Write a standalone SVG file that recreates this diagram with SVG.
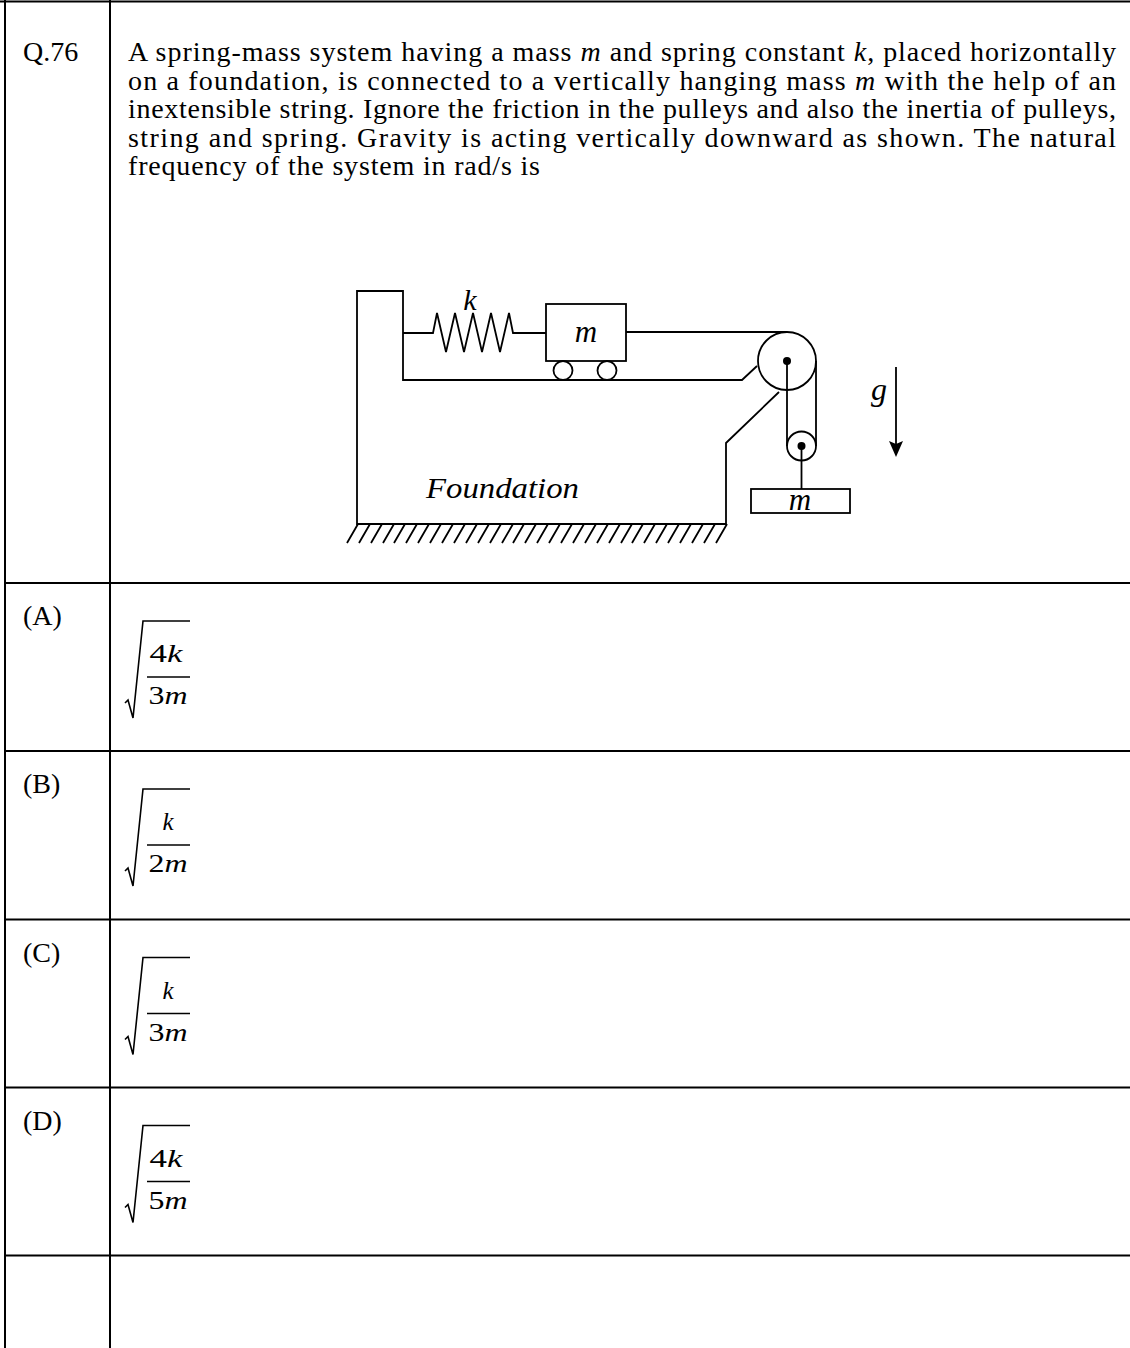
<svg xmlns="http://www.w3.org/2000/svg" width="1130" height="1348" viewBox="0 0 1130 1348">
<style>
.t{font-family:"Liberation Serif","Times New Roman",serif;font-size:28px;fill:#000}
.i{font-style:italic}
.f{font-family:"Liberation Serif","Times New Roman",serif;font-size:25px;fill:#000;text-anchor:middle}
.grid{stroke:#000;stroke-width:2;fill:none}
.d{stroke:#000;stroke-width:1.8;fill:none;stroke-linejoin:miter}
.dt{font-family:"Liberation Serif","Times New Roman",serif;font-style:italic;fill:#000}
.rad{stroke:#000;stroke-width:1.6;fill:none}
</style>
<rect width="1130" height="1348" fill="#fff"/>
<g id="table" class="grid">
<line x1="0" y1="1.5" x2="1130" y2="1.5"/>
<line x1="5" y1="0" x2="5" y2="1348"/>
<line x1="110" y1="0" x2="110" y2="1348"/>
<line x1="5" y1="583" x2="1130" y2="583"/>
<line x1="5" y1="751" x2="1130" y2="751"/>
<line x1="5" y1="919.5" x2="1130" y2="919.5"/>
<line x1="5" y1="1087.5" x2="1130" y2="1087.5"/>
<line x1="5" y1="1255.5" x2="1130" y2="1255.5"/>
</g>
<g id="question">
<text class="t" x="23" y="61">Q.76</text>
<text class="t" x="128" y="61" textLength="988" lengthAdjust="spacing">A spring-mass system having a mass <tspan class="i">m</tspan> and spring constant <tspan class="i">k</tspan>, placed horizontally</text>
<text class="t" x="128" y="89.5" textLength="988" lengthAdjust="spacing">on a foundation, is connected to a vertically hanging mass <tspan class="i">m</tspan> with the help of an</text>
<text class="t" x="128" y="118" textLength="988" lengthAdjust="spacing">inextensible string. Ignore the friction in the pulleys and also the inertia of pulleys,</text>
<text class="t" x="128" y="146.5" textLength="988" lengthAdjust="spacing">string and spring. Gravity is acting vertically downward as shown. The natural</text>
<text class="t" x="128" y="175" textLength="412" lengthAdjust="spacing">frequency of the system in rad/s is</text>
</g>
<g id="figure">
<g id="foundation">
<path class="d" d="M757,366 L742,380 L403,380 L403,291 L357,291 L357,524 L726,524 L726,443 L779,392"/>
<path class="d" stroke-width="1.5" d="M358,524 l-11,19 M370,524 l-11,19 M382,524 l-11,19 M394,524 l-11,19 M405,524 l-11,19 M417,524 l-11,19 M429,524 l-11,19 M441,524 l-11,19 M453,524 l-11,19 M465,524 l-11,19 M477,524 l-11,19 M489,524 l-11,19 M501,524 l-11,19 M513,524 l-11,19 M524,524 l-11,19 M536,524 l-11,19 M548,524 l-11,19 M560,524 l-11,19 M572,524 l-11,19 M584,524 l-11,19 M596,524 l-11,19 M608,524 l-11,19 M620,524 l-11,19 M632,524 l-11,19 M643,524 l-11,19 M655,524 l-11,19 M667,524 l-11,19 M679,524 l-11,19 M691,524 l-11,19 M703,524 l-11,19 M715,524 l-11,19 M727,524 l-11,19"/>
<text class="dt" x="502.5" y="498" font-size="30" text-anchor="middle" textLength="153" lengthAdjust="spacingAndGlyphs">Foundation</text>
</g>
<g id="spring">
<path class="d" d="M403,333 L433,333 L437,313 L446,352 L455,313 L464,352 L473,313 L482,352 L491,313 L500,352 L509,313 L513,333 L546,333"/>
<text class="dt" x="470" y="310" font-size="30" text-anchor="middle">k</text>
</g>
<g id="cart">
<rect class="d" x="546" y="304" width="80" height="57"/>
<circle class="d" cx="563" cy="370.5" r="9.5" fill="#fff"/>
<circle class="d" cx="607" cy="370.5" r="9.5" fill="#fff"/>
<text class="dt" x="586" y="342" font-size="31" text-anchor="middle">m</text>
</g>
<g id="connectors">
<line class="d" x1="626" y1="332" x2="787" y2="332"/>
<line class="d" x1="787" y1="361" x2="787" y2="446"/>
<line class="d" x1="816" y1="361" x2="816" y2="446"/>
<line class="d" x1="801.5" y1="446" x2="801.5" y2="489"/>
</g>
<g id="pulley-big">
<circle class="d" cx="787" cy="361" r="29"/>
<circle cx="787" cy="361" r="4" fill="#000"/>
</g>
<g id="pulley-small">
<circle class="d" cx="801.5" cy="446" r="14.5"/>
<circle cx="801.5" cy="446" r="4" fill="#000"/>
</g>
<g id="hanging-mass">
<rect class="d" x="751" y="489" width="99" height="24"/>
<text class="dt" x="800" y="510" font-size="31" text-anchor="middle">m</text>
</g>
<g id="gravity">
<line class="d" x1="896" y1="367" x2="896" y2="446"/>
<path d="M896,457 L889,441 L896,444 L903,441 Z" fill="#000"/>
<text class="dt" x="879" y="400" font-size="32" text-anchor="middle">g</text>
</g>
</g>
<g id="optA">
<text class="t" x="23" y="625">(A)</text>
<path class="rad" d="M125,703 L128,700 L133,718 L143,621 L190,621"/>
<line class="rad" x1="147" y1="677" x2="190" y2="677"/>
<text class="f" x="166" y="662" textLength="33" lengthAdjust="spacingAndGlyphs">4<tspan class="i">k</tspan></text>
<text class="f" x="168" y="704" textLength="39" lengthAdjust="spacingAndGlyphs">3<tspan class="i">m</tspan></text>
</g>
<g id="optB">
<text class="t" x="23" y="793">(B)</text>
<path class="rad" d="M125,871 L128,868 L133,886 L143,789 L190,789"/>
<line class="rad" x1="147" y1="845" x2="190" y2="845"/>
<text class="f i" x="168" y="830">k</text>
<text class="f" x="168" y="872" textLength="39" lengthAdjust="spacingAndGlyphs">2<tspan class="i">m</tspan></text>
</g>
<g id="optC">
<text class="t" x="23" y="961.5">(C)</text>
<path class="rad" d="M125,1039.5 L128,1036.5 L133,1054.5 L143,957.5 L190,957.5"/>
<line class="rad" x1="147" y1="1013.5" x2="190" y2="1013.5"/>
<text class="f i" x="168" y="998.5">k</text>
<text class="f" x="168" y="1040.5" textLength="39" lengthAdjust="spacingAndGlyphs">3<tspan class="i">m</tspan></text>
</g>
<g id="optD">
<text class="t" x="23" y="1129.5">(D)</text>
<path class="rad" d="M125,1207.5 L128,1204.5 L133,1222.5 L143,1125.5 L190,1125.5"/>
<line class="rad" x1="147" y1="1181.5" x2="190" y2="1181.5"/>
<text class="f" x="166" y="1166.5" textLength="33" lengthAdjust="spacingAndGlyphs">4<tspan class="i">k</tspan></text>
<text class="f" x="168" y="1208.5" textLength="39" lengthAdjust="spacingAndGlyphs">5<tspan class="i">m</tspan></text>
</g>
</svg>
